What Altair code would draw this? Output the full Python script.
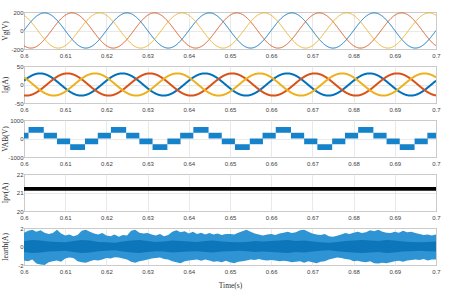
import altair as alt
import numpy as np
import pandas as pd

# ---------------- data ----------------
time_start, time_end = 0.6, 0.7
x_ticks = [0.6, 0.61, 0.62, 0.63, 0.64, 0.65, 0.66, 0.67, 0.68, 0.69, 0.7]

phase_names = ["A", "B", "C"]
phase_colors = ["#0072BD", "#D95319", "#EDB120"]
grid_freq = 50.0                     # Hz
vg_amplitude = 190.0                 # V
vg_phase_deg = [0, -120, 120]
ig_amplitude = 30.0                  # A
ig_phase_deg = [20, -100, 140]

# VAB multilevel staircase: one period of blocks (start, end, low, high)
vab_period = 0.02
vab_block_start = [0.5979, 0.6011, 0.6048, 0.6080, 0.6112, 0.6148]
vab_block_end = [0.6011, 0.6048, 0.6080, 0.6112, 0.6148, 0.6180]
vab_block_low = [0, 310, 0, -310, -620, -310]
vab_block_high = [310, 620, 310, 0, -310, 0]

# Ipv: nearly constant band
ipv_low, ipv_high = 21.1, 21.3

# Iearth envelope (every 1 ms from 0.600 to 0.700)
iearth_upper = [
    1.5, 1.7, 1.8, 1.6, 1.75, 1.5, 1.35, 1.45, 1.8, 1.4,
    1.2, 1.3, 1.1, 1.25, 1.7, 1.8, 1.6, 1.4, 1.3, 1.45,
    1.2, 1.1, 1.3, 1.05, 1.25, 1.2, 1.7, 1.8, 1.5, 1.4,
    1.45, 1.3, 1.2, 1.35, 1.1, 1.25, 1.6, 1.75, 1.55, 1.65,
    1.4, 1.6, 1.35, 1.5, 1.3, 1.45, 1.3, 1.4, 1.25, 1.35,
    1.35, 1.3, 1.5, 1.65, 1.8, 1.6, 1.4, 1.3, 1.2, 1.3,
    1.35, 1.25, 1.4, 1.5, 1.6, 1.45, 1.55, 1.75, 1.8, 1.6,
    1.4, 1.3, 1.25, 1.35, 1.1, 1.05, 1.15, 1.3, 1.45, 1.35,
    1.5, 1.6, 1.45, 1.55, 1.75, 1.65, 1.8, 1.6, 1.5, 1.45,
    1.6, 1.5, 1.7, 1.55, 1.6, 1.45, 1.35, 1.25, 1.3, 1.2,
    1.3]
iearth_lower = [
    -1.5, -1.6, -1.4, -1.85, -1.95, -2.0, -1.7, -1.6, -1.5, -1.65,
    -1.3, -1.2, -1.25, -1.6, -1.7, -1.75, -1.6, -1.45, -1.5, -1.4,
    -1.25, -1.3, -1.15, -1.2, -1.3, -1.4, -1.65, -1.75, -1.6, -1.5,
    -1.4, -1.3, -1.25, -1.2, -1.35, -1.4, -1.6, -1.7, -1.8, -1.6,
    -1.5, -1.45, -1.4, -1.55, -1.4, -1.5, -1.65, -1.6, -1.7, -1.55,
    -1.7, -1.8, -1.65, -1.6, -1.5, -1.4, -1.45, -1.35, -1.45, -1.5,
    -1.45, -1.5, -1.6, -1.55, -1.6, -1.7, -1.65, -1.6, -1.75, -1.6,
    -1.7, -1.8, -1.65, -1.6, -1.4, -1.3, -1.2, -1.25, -1.35, -1.4,
    -1.6, -1.55, -1.65, -1.7, -1.6, -1.8, -1.85, -1.75, -1.8, -1.7,
    -1.6, -1.55, -1.65, -1.5, -1.45, -1.4, -1.45, -1.35, -1.5, -1.4,
    -1.4]
# darker dense core half-width (every 2 ms)
iearth_core = [
    0.6, 0.7, 0.65, 0.55, 0.5, 0.45, 0.6, 0.7, 0.65, 0.5,
    0.45, 0.4, 0.55, 0.65, 0.7, 0.6, 0.5, 0.55, 0.65, 0.6,
    0.55, 0.5, 0.6, 0.65, 0.55, 0.5, 0.45, 0.5, 0.6, 0.55,
    0.6, 0.65, 0.7, 0.6, 0.65, 0.55, 0.45, 0.4, 0.5, 0.6,
    0.65, 0.7, 0.65, 0.6, 0.7, 0.65, 0.55, 0.5, 0.45, 0.5,
    0.55]

# ---------------- build tables ----------------
t = np.linspace(time_start, time_end, 2001)
w = 2 * np.pi * grid_freq


def three_phase(amp, phases):
    rows = []
    for name, ph in zip(phase_names, phases):
        v = amp * np.sin(w * (t - time_start) + np.deg2rad(ph))
        rows.append(pd.DataFrame({"t": t, "v": v, "phase": name}))
    return pd.concat(rows, ignore_index=True)


vg_df = three_phase(vg_amplitude, vg_phase_deg)
ig_df = three_phase(ig_amplitude, ig_phase_deg)

blocks = []
for k in range(-1, 6):
    for s, e, lo, hi in zip(vab_block_start, vab_block_end, vab_block_low, vab_block_high):
        blocks.append({"t0": s + k * vab_period, "t1": e + k * vab_period, "lo": lo, "hi": hi})
vab_df = pd.DataFrame(blocks)

ipv_df = pd.DataFrame({"t0": [time_start], "t1": [time_end], "lo": [ipv_low], "hi": [ipv_high]})

env_t = np.linspace(time_start, time_end, len(iearth_upper))
env_df = pd.DataFrame({"t": env_t, "up": iearth_upper, "lo": iearth_lower})
core_t = np.linspace(time_start, time_end, len(iearth_core))
core_df = pd.DataFrame({"t": core_t, "up": iearth_core, "lo": [-c for c in iearth_core]})

# ---------------- chart helpers ----------------
W, H = 412, 37
label_expr = "'' + datum.value"


def xenc(field="t", last=False):
    ax = alt.Axis(values=x_ticks, format=".2~f", title="Time(s)" if last else None)
    return alt.X(f"{field}:Q", scale=alt.Scale(domain=[time_start, time_end], nice=False, zero=False), axis=ax)


def yenc(field, title, domain, ticks):
    return alt.Y(f"{field}:Q", scale=alt.Scale(domain=domain, nice=False, zero=False),
                 axis=alt.Axis(values=ticks, title=title, labelExpr=label_expr, titleX=-15))


color = alt.Color("phase:N", scale=alt.Scale(domain=phase_names, range=phase_colors), legend=None)

p1 = alt.Chart(vg_df).mark_line(strokeWidth=1, clip=True).encode(
    x=xenc(), y=yenc("v", "Vg(V)", [-200, 200], [-200, 0, 200]), color=color, detail="phase:N"
).properties(width=W, height=H)

p2 = alt.Chart(ig_df).mark_line(strokeWidth=2, clip=True).encode(
    x=xenc(), y=yenc("v", "Ig(A)", [-50, 50], [-50, 0, 50]), color=color, detail="phase:N"
).properties(width=W, height=H)

p3 = alt.Chart(vab_df).mark_rect(color="#1582c9", clip=True).encode(
    x=xenc("t0"), x2="t1", y=yenc("lo", "VAB(V)", [-1000, 1000], [-1000, 0, 1000]), y2="hi"
).properties(width=W, height=H)

p4 = alt.Chart(ipv_df).mark_rect(color="#000000", clip=True).encode(
    x=xenc("t0"), x2="t1", y=yenc("lo", "Ipv(A)", [20, 22], [20, 21, 22]), y2="hi"
).properties(width=W, height=H)

outer = alt.Chart(env_df).mark_area(color="#2e94d3", clip=True).encode(
    x=xenc("t", last=True), y=yenc("up", "Iearth(A)", [-2, 2], [-2, 0, 2]), y2="lo"
)
inner = alt.Chart(core_df).mark_area(color="#0d76bb", clip=True).encode(
    x=xenc("t", last=True), y=yenc("up", "Iearth(A)", [-2, 2], [-2, 0, 2]), y2="lo"
)
p5 = alt.layer(outer, inner).properties(width=W, height=H)

chart = alt.vconcat(p1, p2, p3, p4, p5, spacing=3).properties(
    padding={"left": 0, "top": 8, "right": 6, "bottom": 2}
).configure_view(
    stroke="#6e6e6e", strokeWidth=1
).configure_axis(
    labelFont="Liberation Sans Narrow, Liberation Sans, Arial",
    labelFontSize=6,
    labelColor="#404040",
    labelPadding=1,
    ticks=False,
    domain=False,
    grid=True,
    gridColor="#e3e3e3",
    gridWidth=0.8,
    titleFont="Liberation Serif, Times New Roman, serif",
    titleFontSize=7.5,
    titleFontWeight="normal",
    titleColor="#303030",
).configure_axisX(
    labelFlush=False, labelPadding=3.5, titlePadding=7
)

chart.save("out.html", embed_options={"renderer": "svg", "actions": False})
